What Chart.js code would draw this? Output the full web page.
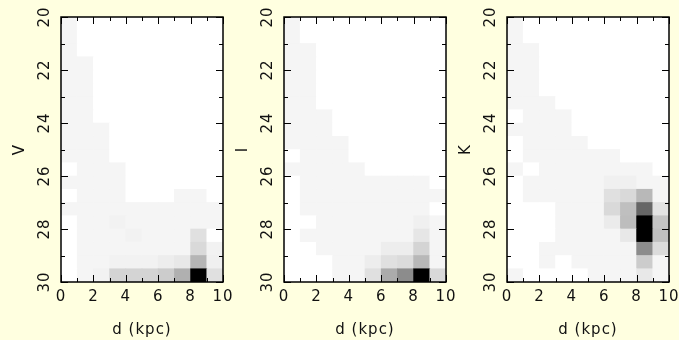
<!DOCTYPE html>
<html>
<head>
<meta charset="utf-8">
<script src="https://cdn.jsdelivr.net/npm/chart.js@4.4.0/dist/chart.umd.min.js"></script>
<style>
  html, body { margin: 0; padding: 0; background: #ffffe0; }
  #wrap { position: relative; width: 679px; height: 340px; }
  #wrap canvas { position: absolute; left: 0; top: 0; }
</style>
</head>
<body>
<div id="wrap">
  <canvas id="panelV" width="679" height="340"></canvas>
  <canvas id="panelI" width="679" height="340"></canvas>
  <canvas id="panelK" width="679" height="340"></canvas>
</div>
<script>
// histogram bin edges
const distEdges = [0, 1, 2, 3, 4, 5, 6, 7, 8, 9, 10];
const magEdges = [20, 20.5, 21, 21.5, 22, 22.5, 23, 23.5, 24, 24.5, 25,
                  25.5, 26, 26.5, 27, 27.5, 28, 28.5, 29, 29.5, 30];
const distTicks = [0, 2, 4, 6, 8, 10];
const magTicks = [20, 22, 24, 26, 28, 30];
const panelLabels = ['V', 'I', 'K'];

// relative density per cell (0 empty .. 100 peak), one row per 0.5 mag from 20 down to 30
const vCounts = [
  [4, 0, 0, 0, 0, 0, 0, 0, 0, 0],
  [4, 0, 0, 0, 0, 0, 0, 0, 0, 0],
  [4, 0, 0, 0, 0, 0, 0, 0, 0, 0],
  [4, 4, 0, 0, 0, 0, 0, 0, 0, 0],
  [4, 4, 0, 0, 0, 0, 0, 0, 0, 0],
  [4, 4, 0, 0, 0, 0, 0, 0, 0, 0],
  [4, 4, 0, 0, 0, 0, 0, 0, 0, 0],
  [4, 4, 0, 0, 0, 0, 0, 0, 0, 0],
  [4, 4, 4, 0, 0, 0, 0, 0, 0, 0],
  [4, 4, 4, 0, 0, 0, 0, 0, 0, 0],
  [4, 4, 4, 0, 0, 0, 0, 0, 0, 0],
  [0, 4, 4, 4, 0, 0, 0, 0, 0, 0],
  [4, 4, 4, 4, 0, 0, 0, 0, 0, 0],
  [0, 4, 4, 4, 0, 0, 0, 4, 4, 0],
  [4, 4, 4, 4, 4, 4, 4, 4, 4, 4],
  [0, 4, 4, 5, 4, 4, 4, 4, 4, 4],
  [0, 4, 4, 4, 5, 4, 4, 4, 12, 0],
  [0, 4, 4, 4, 4, 4, 4, 4, 15, 5],
  [0, 4, 4, 5, 5, 5, 7, 9, 29, 6],
  [0, 4, 5, 17, 17, 17, 20, 31, 100, 12]
];

const iCounts = [
  [4, 0, 0, 0, 0, 0, 0, 0, 0, 0],
  [4, 0, 0, 0, 0, 0, 0, 0, 0, 0],
  [4, 4, 0, 0, 0, 0, 0, 0, 0, 0],
  [4, 4, 0, 0, 0, 0, 0, 0, 0, 0],
  [4, 4, 0, 0, 0, 0, 0, 0, 0, 0],
  [4, 4, 0, 0, 0, 0, 0, 0, 0, 0],
  [4, 4, 0, 0, 0, 0, 0, 0, 0, 0],
  [4, 4, 4, 0, 0, 0, 0, 0, 0, 0],
  [4, 4, 4, 0, 0, 0, 0, 0, 0, 0],
  [4, 4, 4, 4, 0, 0, 0, 0, 0, 0],
  [0, 4, 4, 4, 0, 0, 0, 0, 0, 0],
  [4, 4, 4, 4, 4, 0, 0, 0, 0, 0],
  [0, 4, 4, 4, 4, 4, 4, 4, 4, 0],
  [0, 4, 4, 4, 4, 4, 4, 4, 4, 4],
  [0, 4, 4, 4, 4, 4, 4, 4, 4, 0],
  [0, 0, 4, 4, 4, 4, 4, 4, 6, 4],
  [0, 4, 4, 4, 4, 4, 4, 4, 10, 4],
  [0, 0, 4, 4, 4, 4, 7, 7, 17, 4],
  [0, 0, 0, 4, 4, 7, 12, 14, 28, 4],
  [0, 0, 0, 4, 4, 12, 33, 45, 100, 15]
];

const kCounts = [
  [4, 0, 0, 0, 0, 0, 0, 0, 0, 0],
  [4, 0, 0, 0, 0, 0, 0, 0, 0, 0],
  [4, 4, 0, 0, 0, 0, 0, 0, 0, 0],
  [4, 4, 0, 0, 0, 0, 0, 0, 0, 0],
  [4, 4, 0, 0, 0, 0, 0, 0, 0, 0],
  [4, 4, 0, 0, 0, 0, 0, 0, 0, 0],
  [4, 4, 4, 0, 0, 0, 0, 0, 0, 0],
  [0, 4, 4, 4, 0, 0, 0, 0, 0, 0],
  [4, 4, 4, 4, 0, 0, 0, 0, 0, 0],
  [0, 4, 4, 4, 4, 0, 0, 0, 0, 0],
  [0, 4, 4, 4, 4, 4, 4, 0, 0, 0],
  [4, 0, 4, 4, 4, 4, 4, 4, 4, 0],
  [0, 4, 4, 4, 4, 4, 6, 6, 4, 4],
  [0, 4, 4, 4, 4, 4, 12, 15, 28, 4],
  [0, 0, 0, 4, 4, 4, 15, 25, 60, 11],
  [0, 0, 0, 4, 4, 4, 8, 26, 100, 23],
  [0, 0, 0, 4, 4, 4, 4, 9, 100, 25],
  [0, 0, 4, 4, 4, 4, 4, 4, 45, 14],
  [0, 0, 4, 0, 4, 4, 4, 4, 20, 4],
  [4, 0, 0, 0, 0, 4, 4, 4, 9, 4]
];

const PLOT_WIDTH = 162;
const FONT = '15px "DejaVu Sans", sans-serif';

function shade(v) {
  const g = Math.round(255 * (1 - v / 100));
  return 'rgb(' + g + ',' + g + ',' + g + ')';
}

// frame, inward ticks on all four sides and the axis texts
const framePlugin = {
  id: 'frame',
  afterDraw(chart) {
    const { ctx, chartArea: a, scales: { x, y } } = chart;
    const label = chart.options.plugins.frame.label;
    ctx.save();
    ctx.strokeStyle = '#000';
    ctx.lineWidth = 1;
    ctx.beginPath();
    distEdges.forEach(d => {
      const px = Math.round(x.getPixelForValue(d)) + 0.5;
      const len = d % 2 === 0 ? 7 : 4;
      ctx.moveTo(px, a.top); ctx.lineTo(px, a.top + len);
      ctx.moveTo(px, a.bottom); ctx.lineTo(px, a.bottom - len);
    });
    magEdges.filter(m => Number.isInteger(m)).forEach(m => {
      const py = Math.round(y.getPixelForValue(m)) + 0.5;
      const len = m % 2 === 0 ? 7 : 4;
      ctx.moveTo(a.left, py); ctx.lineTo(a.left + len, py);
      ctx.moveTo(a.right, py); ctx.lineTo(a.right - len, py);
    });
    ctx.stroke();
    ctx.lineWidth = 1.5;
    ctx.strokeRect(a.left, a.top, a.right - a.left, a.bottom - a.top);

    ctx.fillStyle = '#111';
    ctx.font = FONT;
    ctx.textAlign = 'center';
    ctx.textBaseline = 'middle';
    ctx.letterSpacing = '1px';
    distTicks.forEach(d => ctx.fillText(String(d), x.getPixelForValue(d), a.bottom + 15));
    ctx.fillText('d (kpc)', (a.left + a.right) / 2, a.bottom + 48);
    magTicks.forEach(m => {
      ctx.save();
      ctx.translate(a.left - 16, y.getPixelForValue(m));
      ctx.rotate(-Math.PI / 2);
      ctx.fillText(String(m), 0, 0);
      ctx.restore();
    });
    ctx.translate(a.left - 41, (a.top + a.bottom) / 2);
    ctx.rotate(-Math.PI / 2);
    ctx.fillText(label, 0, 0);
    ctx.restore();
  }
};

function makePanel(canvasId, label, counts, plotLeft) {
  const cells = [];
  const colors = [];
  counts.forEach((row, r) => row.forEach((v, c) => {
    cells.push({ x: (distEdges[c] + distEdges[c + 1]) / 2, y: [magEdges[r], magEdges[r + 1]] });
    colors.push(shade(v));
  }));

  return new Chart(document.getElementById(canvasId), {
    type: 'bar',
    data: {
      datasets: [{
        data: cells,
        backgroundColor: colors,
        borderWidth: 0,
        barPercentage: 1,
        categoryPercentage: 1,
        grouped: false
      }]
    },
    options: {
      responsive: false,
      animation: false,
      devicePixelRatio: 1,
      layout: { padding: { left: plotLeft, right: 679 - plotLeft - PLOT_WIDTH, top: 17, bottom: 58 } },
      plugins: {
        legend: { display: false },
        tooltip: { enabled: false },
        frame: { label: label }
      },
      scales: {
        x: { type: 'linear', min: 0, max: 10, offset: false, display: false },
        y: { type: 'linear', min: 20, max: 30, reverse: true, display: false }
      }
    },
    plugins: [framePlugin]
  });
}

makePanel('panelV', panelLabels[0], vCounts, 61);
makePanel('panelI', panelLabels[1], iCounts, 284);
makePanel('panelK', panelLabels[2], kCounts, 507);
</script>
</body>
</html>
